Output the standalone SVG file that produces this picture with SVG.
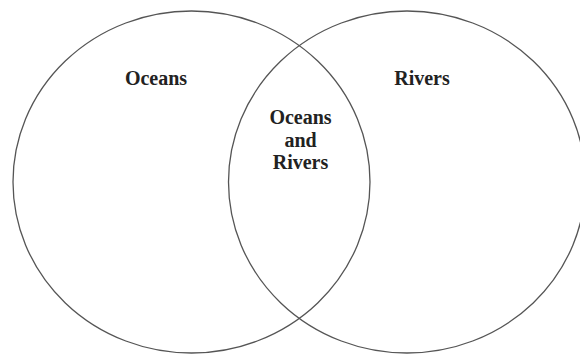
<svg xmlns="http://www.w3.org/2000/svg" width="580" height="356" viewBox="0 0 580 356">
<style>
.set{fill:none;stroke:#555;stroke-width:1.3}
.lbl{font-family:"Liberation Serif","Times New Roman",serif;font-weight:bold;font-size:20px;fill:#222;text-anchor:middle}
</style>
<rect width="580" height="356" fill="#fff"/>
<g id="oceans">
<ellipse class="set" cx="191.5" cy="182" rx="178.5" ry="171"/>
<text class="lbl" x="156" y="85">Oceans</text>
</g>
<g id="rivers">
<ellipse class="set" cx="407" cy="182" rx="178.5" ry="171"/>
<text class="lbl" x="422" y="85">Rivers</text>
</g>
<g id="both">
<text class="lbl" x="300.5" y="124">Oceans</text>
<text class="lbl" x="300.5" y="146.5">and</text>
<text class="lbl" x="300.5" y="169">Rivers</text>
</g>
</svg>
